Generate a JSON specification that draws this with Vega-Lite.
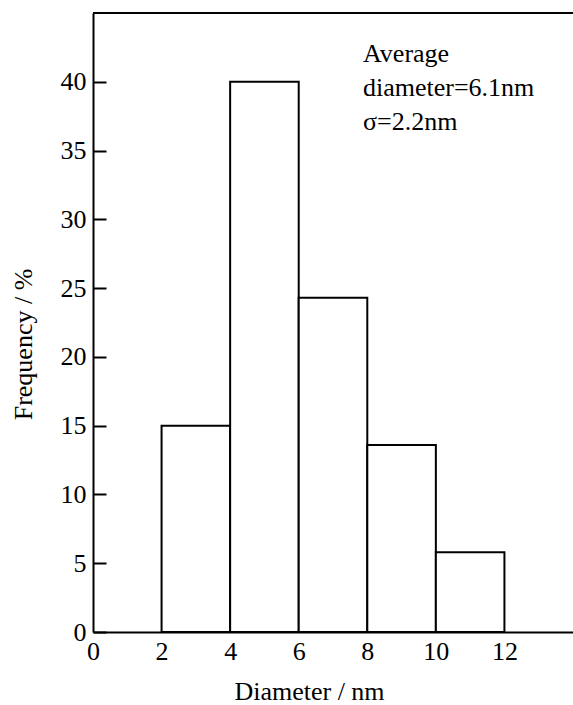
{
  "$schema": "https://vega.github.io/schema/vega-lite/v6.json",
  "autosize": "none",
  "width": 480,
  "height": 619,
  "padding": {"left": 93, "top": 13, "right": 0, "bottom": 73},
  "background": "white",
  "title": {"text": ["Average", "diameter=6.1nm", "σ=2.2nm"], "orient": "top", "anchor": "start", "frame": "group", "font": "Liberation Serif", "fontSize": 26, "fontWeight": "normal", "color": "black", "baseline": "alphabetic", "lineHeight": 34, "offset": 0, "dx": 270, "dy": 144},
  "config": {
    "view": {"stroke": null},
    "font": "Liberation Serif",
    "axis": {"grid": false, "domainColor": "black", "tickColor": "black", "labelColor": "black", "titleColor": "black", "labelFont": "Liberation Serif", "titleFont": "Liberation Serif", "labelFontSize": 26, "titleFontSize": 26, "titleFontWeight": "normal", "domainWidth": 2, "tickWidth": 2}
  },
  "data": {"values": [
    {"start": 2, "end": 4, "freq": 15.0},
    {"start": 4, "end": 6, "freq": 40.0},
    {"start": 6, "end": 8, "freq": 24.3},
    {"start": 8, "end": 10, "freq": 13.6},
    {"start": 10, "end": 12, "freq": 5.8}
  ]},
  "layer": [
    {
      "mark": {"type": "rect", "fill": "white", "stroke": "black", "strokeWidth": 2},
      "encoding": {
        "x": {"field": "start", "type": "quantitative", "scale": {"domain": [0, 14], "nice": false, "zero": true},
          "axis": {"title": "Diameter / nm", "values": [0, 2, 4, 6, 8, 10, 12], "ticks": false, "labelPadding": 6, "titleX": 216, "titleY": 67, "titleBaseline": "alphabetic", "labelFlush": false}},
        "x2": {"field": "end"},
        "y": {"field": "freq", "type": "quantitative", "scale": {"domain": [0, 45], "nice": false},
          "axis": {"title": "Frequency / %", "values": [0, 5, 10, 15, 20, 25, 30, 35, 40], "tickSize": -13, "labelPadding": 20, "titleY": 331, "titleX": -83, "titleBaseline": "top", "titleAngle": 270}},
        "y2": {"datum": 0}
      }
    },
    {
      "data": {"values": [{"top": 45}]},
      "mark": {"type": "rule", "color": "black", "strokeWidth": 2},
      "encoding": {"y": {"field": "top", "type": "quantitative"}}
    }
  ]
}
